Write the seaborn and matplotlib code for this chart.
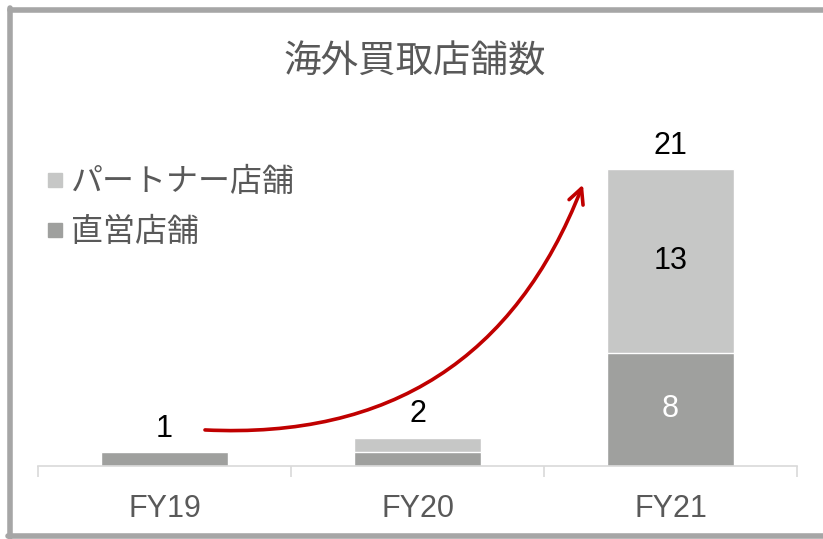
import numpy as np
import pandas as pd
import matplotlib
matplotlib.use('Agg')
from matplotlib import pyplot as plt
from matplotlib.lines import Line2D
import seaborn as sns

# data
years = ['FY19', 'FY20', 'FY21']
direct = [1, 1, 8]
partner = [0, 1, 13]
show_inner = [False, False, True]

title = '海外買取店舗数'
label_direct = '直営店舗'
label_partner = 'パートナー店舗'

c_direct = '#9fa09e'
c_partner = '#c6c7c6'
c_text = '#595959'
c_arrow = '#c00000'

sns.set_theme(style='white')
plt.rcParams['font.family'] = ['Liberation Sans', 'Noto Sans CJK JP']

df = pd.DataFrame({'year': years, 'direct': direct, 'partner': partner})
df['total'] = df['direct'] + df['partner']

W, H = 823, 539
fig = plt.figure(figsize=(W / 100, H / 100), dpi=100)
# axes placement in pixels
x0, x1 = 38, 797
y_base = 466
unit = 14.14
ymax = 25
ax = fig.add_axes([x0 / W, (H - y_base) / H, (x1 - x0) / W, ymax * unit / H])

sns.barplot(data=df, x='year', y='total', color=c_partner, width=0.5,
            saturation=1, ax=ax)
sns.barplot(data=df, x='year', y='direct', color=c_direct, width=0.5,
            saturation=1, ax=ax)

ax.set_xlim(-0.5, 2.5)
ax.set_ylim(0, ymax)
ax.set_xlabel('')
ax.set_ylabel('')
ax.set_yticks([])
for s in ['top', 'left', 'right']:
    ax.spines[s].set_visible(False)
ax.spines['bottom'].set_color('#d9d9d9')
ax.spines['bottom'].set_linewidth(1.2)
ax.set_xticks([-0.5, 0.5, 1.5, 2.5], minor=True)
ax.tick_params(axis='x', which='minor', length=8, width=1.2, color='#d9d9d9',
               direction='out', bottom=True)
ax.tick_params(axis='x', which='major', length=0, pad=20, labelsize=22,
               labelcolor=c_text)

# totals
for i, row in df.iterrows():
    ax.annotate(str(row['total']), xy=(i, row['total']), xytext=(0, 6),
                textcoords='offset points', ha='center', va='bottom',
                fontsize=22, color='black')
    if show_inner[i]:
        ax.text(i, row['direct'] + row['partner'] / 2, str(row['partner']),
                ha='center', va='center', fontsize=22, color='black')
        ax.text(i, row['direct'] / 2, str(row['direct']),
                ha='center', va='center', fontsize=22, color='white')

# growth arrow
ax.annotate('', xy=(1.654, 19.9), xytext=(0.16, 2.55),
            arrowprops=dict(arrowstyle='->,head_length=0.9,head_width=0.45',
                            connectionstyle='arc3,rad=0.36',
                            color=c_arrow, lw=2.6, shrinkA=0, shrinkB=0))

# legend
handles = [Line2D([], [], marker='s', linestyle='', markersize=10,
                  markerfacecolor=c_partner, markeredgecolor=c_partner),
           Line2D([], [], marker='s', linestyle='', markersize=10,
                  markerfacecolor=c_direct, markeredgecolor=c_direct)]
leg = ax.legend(handles, [label_partner, label_direct], loc='upper left',
                bbox_to_anchor=(26 / W, 1 - 155 / H),
                bbox_transform=fig.transFigure, frameon=False, fontsize=23,
                handletextpad=0.0, handlelength=1.0, labelspacing=0.62,
                borderaxespad=0)
for t in leg.get_texts():
    t.set_color(c_text)

fig.text(415 / W, 1 - 62 / H, title, ha='center', va='center',
         fontsize=27, color=c_text)

# outer frame
fc = '#a6a6a6'
fig.add_artist(Line2D([9.5 / W, 1], [1 - 10 / H, 1 - 10 / H], color=fc, lw=4,
                      transform=fig.transFigure))
fig.add_artist(Line2D([9.5 / W, 9.5 / W], [1 - 8 / H, 1 - 537 / H], color=fc,
                      lw=4, transform=fig.transFigure))
fig.add_artist(Line2D([8 / W, 1], [1 - 536 / H, 1 - 536 / H], color=fc, lw=4,
                      transform=fig.transFigure))

fig.savefig('out.png', dpi=100)
